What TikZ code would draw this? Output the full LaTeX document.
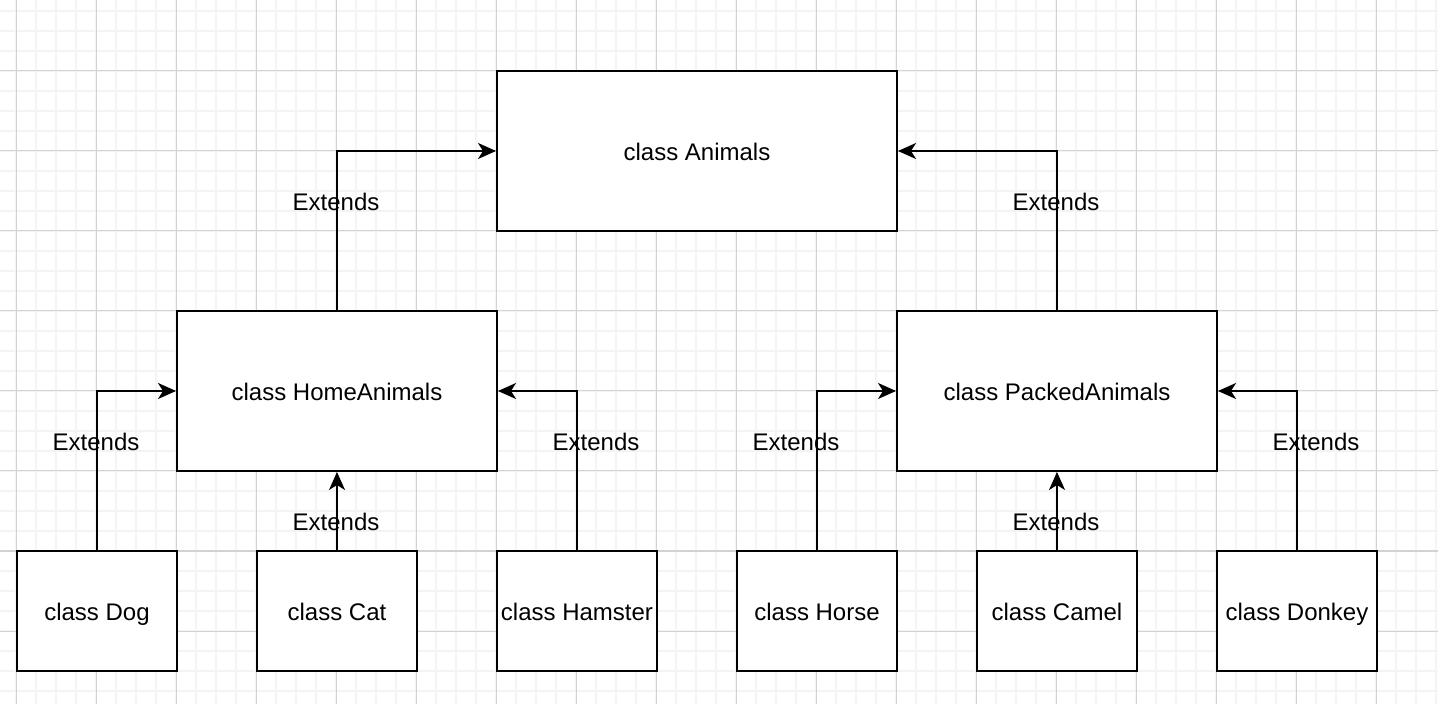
\documentclass[tikz,border=0pt]{standalone}
\usepackage{fontspec}
\setmainfont{Liberation Sans}
\usetikzlibrary{arrows.meta}
\definecolor{minorgrid}{HTML}{F4F4F4}
\definecolor{majorgrid}{HTML}{D2D2D2}
\tikzset{
  classbox/.style={draw=black, line width=1pt, fill=white, rectangle, inner sep=0pt,
    font=\fontsize{12pt}{14pt}\selectfont, text height=9.6pt, text depth=0pt},
  bigbox/.style={classbox, minimum width=200pt, minimum height=80pt},
  midbox/.style={classbox, minimum width=160pt, minimum height=80pt},
  smallbox/.style={classbox, minimum width=80pt, minimum height=60pt},
  conn/.style={draw=black, line width=1pt, -{Stealth[length=9pt, width=8pt, inset=2.5pt]}},
  extlabel/.style={inner sep=0pt, font=\fontsize{12pt}{14pt}\selectfont, text height=9.6pt, text depth=0pt}
}
\begin{document}
\begin{tikzpicture}[x=0.5pt, y=-0.5pt]
\useasboundingbox (0,0) rectangle (1438,704);
\fill[white] (0,0) rectangle (1438,704);
% grid
\foreach \x in {-4,16,...,1440} \draw[minorgrid, line width=1pt] (\x,0) -- (\x,704);
\foreach \y in {11,31,...,704} \draw[minorgrid, line width=1pt] (0,\y) -- (1438,\y);
\foreach \x in {16,96,...,1440} \draw[majorgrid, line width=0.5pt] (\x,0) -- (\x,704);
\foreach \y in {71,151,...,704} \draw[majorgrid, line width=0.5pt] (0,\y) -- (1438,\y);
% boxes
\node[bigbox] (animals) at (697,151) {class Animals};
\node[midbox] (home) at (337,391) {class HomeAnimals};
\node[midbox] (packed) at (1057,391) {class PackedAnimals};
\node[smallbox] (dog) at (97,611) {class Dog};
\node[smallbox] (cat) at (337,611) {class Cat};
\node[smallbox] (hamster) at (577,611) {class Hamster};
\node[smallbox] (horse) at (817,611) {class Horse};
\node[smallbox] (camel) at (1057,611) {class Camel};
\node[smallbox] (donkey) at (1297,611) {class Donkey};
% connectors
\draw[conn] (home.north) |- (animals.west);
\draw[conn] (packed.north) |- (animals.east);
\draw[conn] (dog.north) |- (home.west);
\draw[conn] (cat.north) -- (home.south);
\draw[conn] (hamster.north) |- (home.east);
\draw[conn] (horse.north) |- (packed.west);
\draw[conn] (camel.north) -- (packed.south);
\draw[conn] (donkey.north) |- (packed.east);
% labels
\node[extlabel] (l1) at (336,201) {Extends};
\node[extlabel] (l2) at (1056,201) {Extends};
\node[extlabel] (l3) at (96,441) {Extends};
\node[extlabel] (l4) at (336,521) {Extends};
\node[extlabel] (l5) at (596,441) {Extends};
\node[extlabel] (l6) at (796,441) {Extends};
\node[extlabel] (l7) at (1056,521) {Extends};
\node[extlabel] (l8) at (1316,441) {Extends};
\end{tikzpicture}
\end{document}
